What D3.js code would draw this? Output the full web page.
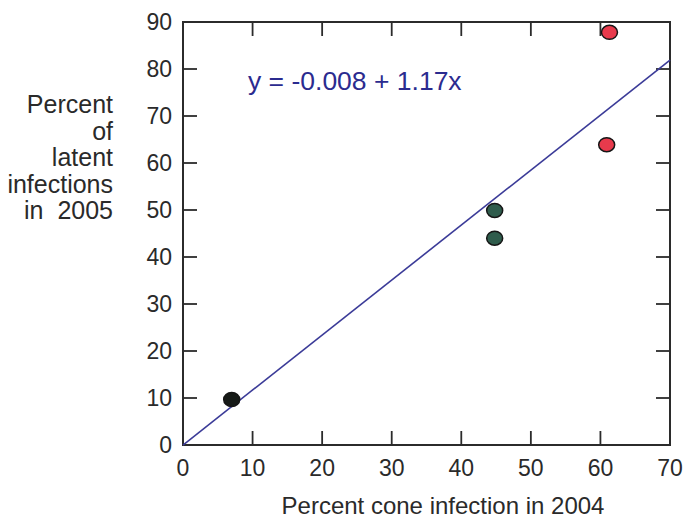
<!DOCTYPE html>
<html>
<head>
    <meta charset="utf-8">
    <title>Latent vs cone infection</title>
    <script src="https://d3js.org/d3.v7.min.js"></script>
    <style type="text/css">
        body { margin: 0; background: #fff; }
        svg { display: block; font-family: "Liberation Sans", Arial, sans-serif; }
        .tick-label { fill: #2a2a2a; font-size: 23px; }
        .title { fill: #2a2a2a; font-size: 24px; }
    </style>
</head>
<body>
<div id="chart"></div>
<script type="text/javascript">
    // data
    const coneInfection2004 = [7.0, 44.8, 44.8, 61.3, 60.9];
    const latentInfection2005 = [9.7, 49.9, 44.0, 87.8, 63.9];
    const group = ["early", "mid", "mid", "late", "late"];
    const xTicks = [0, 10, 20, 30, 40, 50, 60, 70];
    const yTicks = [0, 10, 20, 30, 40, 50, 60, 70, 80, 90];
    const fit = { intercept: -0.008, slope: 1.17 };
    const yTitleLines = ["Percent", "of", "latent", "infections", "in  2005"];

    const groupColor = { early: "#161a17", mid: "#2f5c4c", late: "#e83a4c" };

    const width = 683, height = 521;
    const svg = d3.select("#chart").append("svg")
        .attr("width", width)
        .attr("height", height);

    const x = d3.scaleLinear().domain([0, 70]).range([183, 670]);
    const y = d3.scaleLinear().domain([0, 90]).range([445, 22]);
    const tickLen = 14;
    const axisColor = "#2b2b2b";

    // frame
    svg.append("rect")
        .attr("x", x(0)).attr("y", y(90))
        .attr("width", x(70) - x(0)).attr("height", y(0) - y(90))
        .attr("fill", "none").attr("stroke", axisColor).attr("stroke-width", 2);

    // inward ticks on all four sides
    const ticks = svg.append("g").attr("stroke", axisColor).attr("stroke-width", 1.8);
    xTicks.slice(1, -1).forEach(t => {
        ticks.append("line").attr("x1", x(t)).attr("x2", x(t)).attr("y1", y(0)).attr("y2", y(0) - tickLen);
        ticks.append("line").attr("x1", x(t)).attr("x2", x(t)).attr("y1", y(90)).attr("y2", y(90) + tickLen);
    });
    yTicks.slice(1, -1).forEach(t => {
        ticks.append("line").attr("x1", x(0)).attr("x2", x(0) + tickLen).attr("y1", y(t)).attr("y2", y(t));
        ticks.append("line").attr("x1", x(70)).attr("x2", x(70) - tickLen).attr("y1", y(t)).attr("y2", y(t));
    });

    svg.append("g").selectAll("text")
        .data(xTicks).join("text")
        .attr("class", "tick-label")
        .attr("x", d => x(d)).attr("y", 476)
        .attr("text-anchor", "middle")
        .text(d => d);

    svg.append("g").selectAll("text")
        .data(yTicks).join("text")
        .attr("class", "tick-label")
        .attr("x", 172).attr("y", d => y(d) + 8)
        .attr("text-anchor", "end")
        .text(d => d);

    // regression line
    svg.append("line")
        .attr("x1", x(0)).attr("y1", y(fit.intercept))
        .attr("x2", x(70)).attr("y2", y(fit.intercept + fit.slope * 70))
        .attr("stroke", "#3b3b98").attr("stroke-width", 1.6);

    svg.append("text")
        .attr("x", 248).attr("y", 90)
        .attr("fill", "#2b2b8f").attr("font-size", 26.5)
        .text(`y = ${fit.intercept} + ${fit.slope}x`);

    // points
    svg.append("g").selectAll("ellipse")
        .data(coneInfection2004.map((v, i) => ({ x: v, y: latentInfection2005[i], g: group[i] })))
        .join("ellipse")
        .attr("cx", d => x(d.x)).attr("cy", d => y(d.y))
        .attr("rx", 8).attr("ry", 7)
        .attr("fill", d => groupColor[d.g])
        .attr("stroke", "#151515").attr("stroke-width", 1.5);

    // axis titles
    svg.append("text")
        .attr("class", "title")
        .attr("x", 443).attr("y", 514)
        .attr("text-anchor", "middle")
        .text("Percent cone infection in 2004");

    svg.append("g").selectAll("text")
        .data(yTitleLines).join("text")
        .attr("class", "title")
        .attr("x", 113).attr("y", (d, i) => 113 + i * 26.5)
        .attr("text-anchor", "end")
        .attr("xml:space", "preserve")
        .style("white-space", "pre")
        .style("font-size", "25px")
        .text(d => d);
</script>
</body>
</html>
